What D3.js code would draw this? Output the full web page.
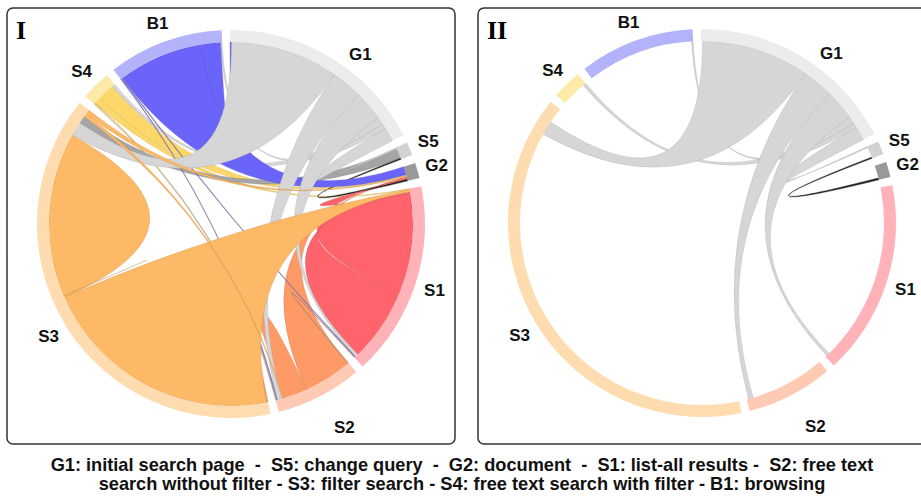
<!DOCTYPE html>
<html>
<head>
<meta charset="utf-8">
<script src="https://cdn.jsdelivr.net/npm/d3@7"></script>
<style>
  body { margin: 0; background: #fff; }
  svg { display: block; }
</style>
</head>
<body>
<svg id="chart"></svg>
<script>
// states round the circle, clockwise from 12 o'clock
const states = ['G1', 'S5', 'G2', 'S1', 'S2', 'S3', 'S4', 'B1']

// transitions: [from, to, width at the source end, width at the target end]
const transitions = [
  ['G1', 'S3', 34.5, 4.5],
  ['G1', 'S2', 10, 1.5],
  ['G1', 'S1', 9.5, 1.0],
  ['G1', 'S4', 2.5, 1.0],
  ['G1', 'B1', 1.5, 0.5],
  ['G1', 'S5', 4.5, 0.4],
  ['B1', 'G1', 6.5, 0.5],
  ['B1', 'G2', 26.9, 2.6],
  ['B1', 'S1', 0.3, 0.3],
  ['B1', 'S2', 0.3, 0.3],
  ['S4', 'G2', 5.5, 0.3],
  ['S4', 'S1', 2, 0.2],
  ['S4', 'S2', 0.5, 0.3],
  ['S3', 'S1', 77.5, 0.8],
  ['S3', 'S3', 52.5, 0.5],
  ['S3', 'G2', 1.5, 0.3],
  ['S3', 'S2', 1, 0.3],
  ['S5', 'S3', 3.2, 2.5],
  ['S2', 'G2', 15.5, 0.3],
  ['S2', 'S3', 7.8, 0.5],
  ['S2', 'S1', 0.3, 0.2],
  ['S1', 'G2', 31.5, 0.5],
  ['S1', 'S1', 24, 0.5],
  ['G2', 'S5', 0.6, 0.4]
]

// panel II keeps only the transitions leaving G1 (and the G2 loop)
const panelTwoLinks = ['G1>S3', 'G1>S2', 'G1>S1', 'G1>S4', 'G1>B1', 'G1>S5', 'G2>S5']

// order of the link ends round each sector, clockwise
const ringOrder = {
  G1: ['B1>G1', 'G1>S3', 'G1>S2', 'G1>S1', 'G1>S4', 'G1>B1', 'G1>S5'],
  S5: ['G1>S5', 'S5>S3', 'G2>S5'],
  G2: ['B1>G2', 'S4>G2', 'S3>G2', 'S2>G2', 'S1>G2', 'G2>S5'],
  S1: ['S4>S1', 'S3>S1', 'S1>S1', 'S1>G2', 'S1>S1', 'G1>S1', 'B1>S1', 'S2>S1'],
  S2: ['S2>S1', 'S2>G2', 'S2>S3', 'S3>S2', 'G1>S2', 'B1>S2', 'S4>S2'],
  S3: ['S2>S3', 'S3>S1', 'S3>S3', 'S3>S3', 'G1>S3', 'S5>S3', 'S3>S2', 'S3>G2'],
  S4: ['S4>S2', 'S4>S1', 'S4>G2', 'G1>S4'],
  B1: ['B1>S2', 'B1>S1', 'B1>G2', 'B1>G1', 'G1>B1']
}

const captionLines = [
  'G1: initial search page  -  S5: change query  -  G2: document  -  S1: list-all results -  S2: free text',
  'search without filter - S3: filter search - S4: free text search with filter - B1: browsing'
]
const panelNames = ['I', 'II']

// styles
const ringColors = ['#ececec', '#d2d2d2', '#999999', '#ffb3b8', '#ffcab3', '#fedcb0', '#feeaa8', '#b3b3fb']
const linkColors = ['#d6d6d6', '#a5a5a5', '#1e1e1e', '#ff646c', '#ff9966', '#fdb965', '#fdd868', '#6a64fb']
// painting order: a link key wins over its source state
const drawOrder = ['S2', 'S4', 'S5', 'G2', 'G1>S4', 'G1>B1', 'G1>S5', 'B1', 'G1', 'S1', 'S3']
const labelNudge = { G1: [6, 0], S2: [-2, 18] } // [degrees, pixels]

const width = 921
const height = 498
const outerRadius = 194
const innerRadius = 182
const labelRadius = 214
const deg = Math.PI / 180
const padAngle = 2.5 * deg
const startOffset = -0.3 * deg

// compute sector sizes from the link ends
const links = transitions.map(([from, to, out, inn]) => ({ key: `${from}>${to}`, from, to, out, inn }))
const linkByKey = new Map(links.map(l => [l.key, l]))
const stateSize = states.map(s => d3.sum(links, l => (l.from === s ? l.out : 0) + (l.to === s ? l.inn : 0)))

const angle = d3.scaleLinear()
  .domain([0, d3.sum(stateSize)])
  .range([0, 2 * Math.PI - padAngle * states.length])

const groups = []
{
  let cum = 0
  states.forEach((s, i) => {
    const startAngle = startOffset + angle(cum) + i * padAngle
    cum += stateSize[i]
    groups.push({ state: s, index: i, startAngle, endAngle: startOffset + angle(cum) + i * padAngle })
  })
}

// stack the link ends inside each sector
const ends = new Map()
groups.forEach(g => {
  let a = g.startAngle
  const seen = new Set()
  for (const key of ringOrder[g.state]) {
    const l = linkByKey.get(key)
    const isSource = l.from === g.state && (l.to !== g.state || seen.has(key))
    seen.add(key)
    const span = angle(isSource ? l.out : l.inn)
    const e = ends.get(key) || { key, from: l.from, thin: Math.max(l.out, l.inn) < 1 }
    e[isSource ? 'source' : 'target'] = { startAngle: a, endAngle: a + span }
    a += span
    ends.set(key, e)
  }
})

const rank = d => drawOrder.includes(d.key) ? drawOrder.indexOf(d.key) : drawOrder.indexOf(d.from)
const chords = Array.from(ends.values()).sort((a, b) => rank(a) - rank(b))

const ribbon = d3.ribbon().radius(innerRadius)
const arc = d3.arc().innerRadius(innerRadius).outerRadius(outerRadius)

const svg = d3.select('#chart')
  .attr('width', width)
  .attr('height', height)
  .attr('viewBox', [0, 0, width, height])
  .style('font-family', '"Liberation Sans", Arial, sans-serif')

function ChordPanel(selection, { x0, x1, cx, cy, name, keep }) {
  const g = selection.append('g')

  g.append('rect')
    .attr('x', x0)
    .attr('y', 8)
    .attr('width', x1 - x0)
    .attr('height', 436)
    .attr('rx', 6)
    .attr('fill', 'none')
    .attr('stroke', '#333')
    .attr('stroke-width', 1.5)

  g.append('text')
    .attr('x', x0 + 9)
    .attr('y', 39)
    .attr('font-family', '"Liberation Serif", "Times New Roman", serif')
    .attr('font-weight', 'bold')
    .attr('font-size', 26)
    .text(name)

  const c = g.append('g').attr('transform', `translate(${cx},${cy})`)

  c.append('g')
    .selectAll('path')
    .data(chords.filter(d => keep(d.key)))
    .join('path')
      .attr('d', ribbon)
      .attr('fill', d => linkColors[states.indexOf(d.from)])
      .attr('stroke', d => d.thin && d.from !== 'G2'
        ? '#8a7f7a'
        : d3.color(linkColors[states.indexOf(d.from)]).darker(0.8))
      .attr('stroke-width', 0.6)
      .attr('stroke-opacity', d => d.thin ? 0.7 : 0.5)

  c.append('g')
    .selectAll('path')
    .data(groups)
    .join('path')
      .attr('d', arc)
      .attr('fill', d => ringColors[d.index])

  c.append('g')
    .selectAll('text')
    .data(groups)
    .join('text')
      .attr('transform', d => {
        const [da, dr] = labelNudge[d.state] || [0, 0]
        const a = (d.startAngle + d.endAngle) / 2 + da * deg
        const r = labelRadius + dr
        return `translate(${r * Math.sin(a)},${-r * Math.cos(a)})`
      })
      .attr('text-anchor', 'middle')
      .attr('dy', '0.36em')
      .attr('font-weight', 'bold')
      .attr('font-size', 17)
      .attr('fill', '#111')
      .text(d => d.state)
}

ChordPanel(svg, { x0: 7, x1: 455, cx: 231, cy: 224, name: panelNames[0], keep: () => true })
ChordPanel(svg, { x0: 478, x1: 930, cx: 702, cy: 223, name: panelNames[1], keep: k => panelTwoLinks.includes(k) })

svg.append('g')
  .selectAll('text')
  .data(captionLines)
  .join('text')
    .attr('x', 462)
    .attr('y', (d, i) => 471 + i * 19)
    .attr('text-anchor', 'middle')
    .attr('font-weight', 'bold')
    .attr('font-size', 18.2)
    .style('white-space', 'pre')
    .attr('fill', '#111')
    .text(d => d)
</script>
</body>
</html>
